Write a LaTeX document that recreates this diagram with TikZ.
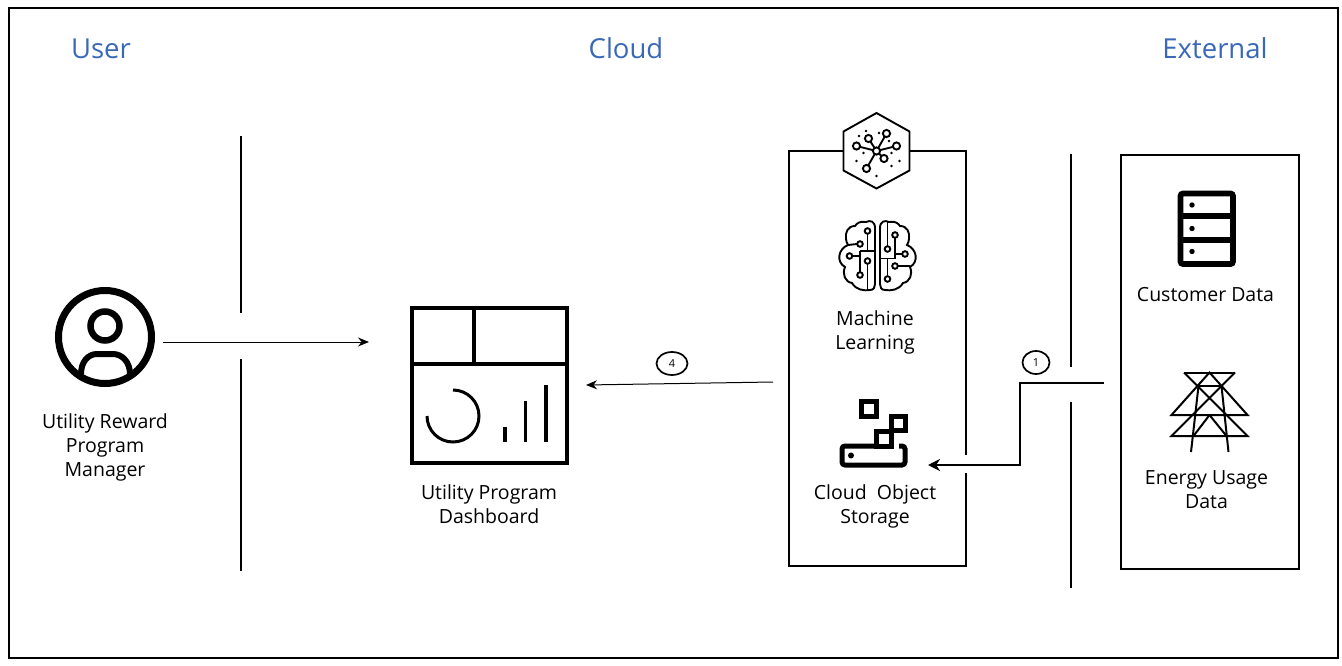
\documentclass[tikz,border=0pt]{standalone}
\usepackage{fontspec}
\setmainfont{Open Sans}
\usepackage{tikz}
\usetikzlibrary{arrows.meta,positioning,calc,shapes.geometric}
\definecolor{headblue}{HTML}{3A68B8}
\tikzset{
    headlabel/.style={text=headblue, font=\fontsize{27.5}{30}\selectfont, inner sep=0pt},
    iconlabel/.style={align=center, font=\fontsize{19.5}{24}\selectfont, inner sep=0pt},
    divline/.style={line width=2pt},
    panelbox/.style={draw, line width=2pt},
    netarrow/.style={-{Stealth[length=11pt,width=9pt]}, line width=1pt},
    flowarrow/.style={-{Stealth[length=12pt,width=12pt]}, line width=2.4pt},
    stepmark/.style={draw, ellipse, line width=1.7pt, minimum width=31pt, minimum height=23pt, inner sep=0pt, font=\fontsize{11}{11}\selectfont},
    thinicon/.style={line width=1.9pt},
    boldicon/.style={line width=5pt}
}

\begin{document}
\begin{tikzpicture}[x=1pt,y=-1pt]
\useasboundingbox (0,0) rectangle (1342,666);
\draw[line width=2pt] (9,8) rectangle (1338,658);
% headings
\node[headlabel] (user) at (101,49) {User};
\node[headlabel] (cloud) at (626,48.5) {Cloud};
\node[headlabel] (external) at (1215,48.5) {External};
% dividers
\draw[divline] (241,136) -- (241,313);
\draw[divline] (241,359) -- (241,571);
\draw[divline] (1071,154) -- (1071,367);
\draw[divline] (1071,402) -- (1071,588);
% panels
\draw[panelbox] (966,455) -- (966,151) -- (789,151) -- (789,566) -- (966,566) -- (966,473);
\draw[panelbox] (1121,155) rectangle (1299,569);
% user icon
\coordinate (usericon) at (105,337);
\draw[line width=7pt] (usericon) circle (46.5);
\draw[line width=6.5pt] (105,326) circle (14.5);
\draw[line width=6pt] (81,374) .. controls (81,362) and (88,354) .. (97,354) -- (113,354) .. controls (122,354) and (130,362) .. (130,374);
\node[iconlabel] (manager) at (105,447) {Utility Reward\\Program\\Manager};
% dashboard icon
\draw[line width=4pt] (412,307.5) rectangle (566.5,462.5);
\draw[line width=3.5pt] (412,364) -- (566.5,364);
\draw[line width=3.5pt] (474,307.5) -- (474,364);
\draw[line width=3pt] (453,390) arc (-90:180:26);
\draw[line width=3.5pt] (505,441.5) -- (505,426.5);
\draw[line width=3.5pt] (525.5,441.5) -- (525.5,400.5);
\draw[line width=3.5pt] (546,441.5) -- (546,385);
\node[iconlabel] (dashboard) at (489,504.5) {Utility Program\\Dashboard};
% hexagon
\draw[thinicon,fill=white] (876.5,113) -- (909.5,131.5) -- (909.5,170.5) -- (876.5,188.5) -- (843.5,170.5) -- (843.5,131.5) -- cycle;
\coordinate (hub) at (876.5,151);
\foreach \px/\py in {856.5/146,868.5/138.5,886.5/133.5,896.5/146,884/158.5,866.5/168.5}{
  \draw[thinicon] (hub) -- (\px,\py);
  \draw[thinicon,fill=white] (\px,\py) circle (3.6);
}
\draw[thinicon,fill=white] (hub) circle (3.6);
\foreach \px/\py in {859/136,866/131,879/133,889/141,863.5/153,856.5/161,891.5/153,899.5/161,891.5/166,876.5/176}{
  \fill (\px,\py) circle (1.3);
}
% brain icon
\draw[thinicon] (875,228) .. controls (875,221) and (870,220) .. (866,222) .. controls (860,221) and (857,223) .. (855,226) .. controls (848,226) and (845,232) .. (846,239) .. controls (846,241) and (847,243) .. (848,245) .. controls (838,249) and (836,262) .. (845,267) .. controls (842,274) and (845,282) .. (852,283) .. controls (856,290) and (864,291) .. (870,290) .. controls (874,290) and (875,287) .. (875,284) -- cycle;
\draw[thinicon] (880,228) .. controls (880,221) and (885,220) .. (889,222) .. controls (895,221) and (898,223) .. (900,226) .. controls (907,226) and (910,232) .. (909,239) .. controls (909,241) and (908,243) .. (907,245) .. controls (917,249) and (919,262) .. (910,267) .. controls (913,274) and (910,282) .. (903,283) .. controls (899,290) and (891,291) .. (885,290) .. controls (881,290) and (880,287) .. (880,284) -- cycle;
\draw[thinicon] (867.5,233) -- (867.5,251);
\draw[thinicon] (860,251) -- (875,251);
\draw[thinicon] (860,251) -- (860,273);
\draw[thinicon] (852,256) -- (860,256);
\draw[thinicon] (848,245) -- (857,244);
\draw[thinicon] (867.5,264) -- (867.5,290);
\draw[thinicon] (887.5,221) -- (887.5,246);
\draw[thinicon] (880,258.5) -- (895,258.5) -- (895,238);
\draw[thinicon] (887.5,258.5) -- (887.5,276);
\draw[thinicon] (895,254) -- (902,254);
\draw[thinicon] (898,266) -- (910,266);
\foreach \px/\py in {867.5/231,860/244,849.5/256,867.5/261,860/275,895/235,887.5/249,905/254,895/266,887.5/279}{
  \draw[thinicon,fill=white] (\px,\py) circle (2.8);
}
\node[iconlabel] (ml) at (875,332) {Machine\\Learning};
% storage icon
\draw[boldicon] (861,401) rectangle (876,416);
\draw[boldicon] (891,416) rectangle (905,430);
\draw[boldicon] (876.5,431) rectangle (891,446);
\draw[boldicon,rounded corners=3pt] (876,446) -- (842,446) -- (842,465) -- (905,465) -- (905,446) -- (899,446);
\fill (851,455.5) circle (3);
\node[iconlabel] (cos) at (875,506) {Cloud \ Object\\Storage};
% server icon
\draw[rounded corners=2.5pt,line width=5.7pt] (1180.5,193.5) rectangle (1233,264);
\draw[line width=5.7pt] (1180.5,216) -- (1233,216);
\draw[line width=5.7pt] (1180.5,240) -- (1233,240);
\foreach \py in {205,228.5,251.5}{
  \fill (1192,\py) circle (2.7);
}
\node[iconlabel] (customer) at (1205.5,295) {Customer Data};
% tower icon
\draw[line width=2pt] (1184,372.5) -- (1235,372.5);
\draw[line width=2pt] (1184,372.5) -- (1247.5,436) -- (1171.5,436) -- (1235,372.5);
\draw[line width=2pt] (1209.5,372.5) -- (1247.5,415) -- (1171.5,415) -- cycle;
\draw[line width=2pt] (1198.5,386) -- (1221.5,386);
\draw[line width=2pt] (1198.5,386) -- (1191,452);
\draw[line width=2pt] (1221.5,386) -- (1228.5,452);
\draw[line width=2pt] (1209.5,415) -- (1193.5,436);
\draw[line width=2pt] (1209.5,415) -- (1226.5,436);
\node[iconlabel] (energy) at (1206.5,489.5) {Energy Usage\\Data};
% connectors
\coordinate (mgrout) at (163,342);
\coordinate (dashin) at (369,342);
\draw[netarrow] (mgrout) -- (dashin);
\coordinate (mlout) at (773,382);
\coordinate (dashout) at (586,385);
\draw[netarrow] (mlout) -- (dashout);
\coordinate (extout) at (1104,383);
\coordinate (cosin) at (928,465);
\draw[flowarrow] (extout) -- (1020,383) -- (1020,465) -- (cosin);
\node[stepmark] (stepfour) at (672,363.5) {4};
\node[stepmark, minimum width=27pt] (stepone) at (1036,362.5) {1};
\end{tikzpicture}
\end{document}
